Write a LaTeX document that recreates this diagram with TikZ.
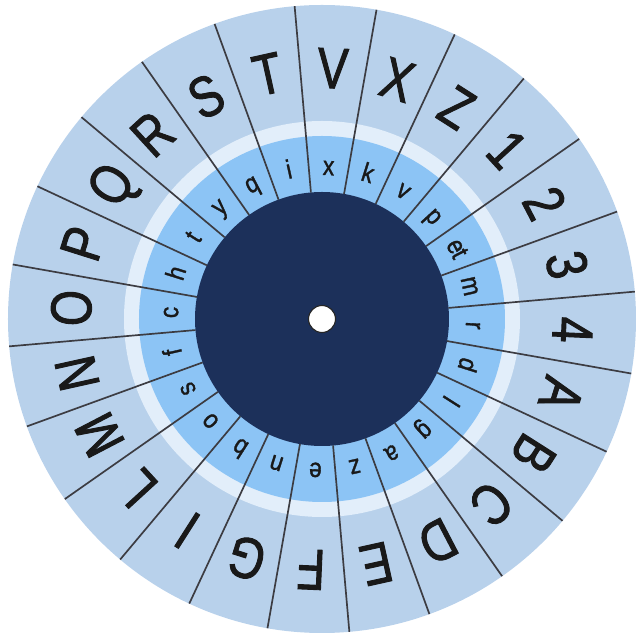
\documentclass[tikz,border=0pt]{standalone}
\usepackage{fontspec}
\newfontfamily\diskfont[FakeStretch=0.8,FakeBold=1.6]{Liberation Sans}
\newfontfamily\ringfont[FakeStretch=0.85,FakeBold=1.2]{Liberation Sans}
\definecolor{outerband}{RGB}{184,209,235}
\definecolor{whitering}{RGB}{226,238,250}
\definecolor{innerband}{RGB}{140,196,245}
\definecolor{hubblue}{RGB}{28,48,90}
\definecolor{spokegray}{RGB}{60,60,66}
\tikzset{
  capletter/.style={font=\diskfont\fontsize{41}{41}\selectfont, inner sep=0pt,
                    anchor=base, text=black!90},
  smallletter/.style={font=\ringfont\fontsize{19}{19}\selectfont, inner sep=0pt,
                      anchor=base, text=black!90},
  spokeline/.style={draw=spokegray, line width=1.2pt},
}
\begin{document}
\begin{tikzpicture}[x=0.025cm, y=0.025cm]
  \useasboundingbox (-322,-317) rectangle (317,319);

  % rings of the disk
  \fill[outerband] (0,0) circle (314);
  \fill[whitering] (0,0) circle (198);
  \fill[innerband] (0,0) circle (183);
  \fill[hubblue]   (0,0) circle (127);

  % spokes
  \foreach \k in {0,...,23}
    \draw[spokeline] ({95-15*\k}:127) -- ({95-15*\k}:314);

  % outer alphabet
  \foreach \ch [count=\i from 0] in {V,X,Z,1,2,3,4,A,B,C,D,E,F,G,I,L,M,N,O,P,Q,R,S,T} {
    \pgfmathsetmacro\ang{87.5-15*\i}
    \node[capletter, rotate=\ang-90] (out\i) at (\ang:231) {\ch};
  }

  % inner alphabet
  \foreach \ch [count=\i from 0] in {x,k,v,p,e\kern-0.8pt t,m,r,d,l,g,a,z,e,n,b,o,s,f,c,h,t,y,q,i} {
    \pgfmathsetmacro\ang{87.5-15*\i}
    \node[smallletter, rotate=\ang-90] (in\i) at (\ang:144) {\ch};
  }

  % centre hole
  \filldraw[fill=white, draw=black!85, line width=0.8pt] (0,0) circle (13.5);
\end{tikzpicture}
\end{document}
